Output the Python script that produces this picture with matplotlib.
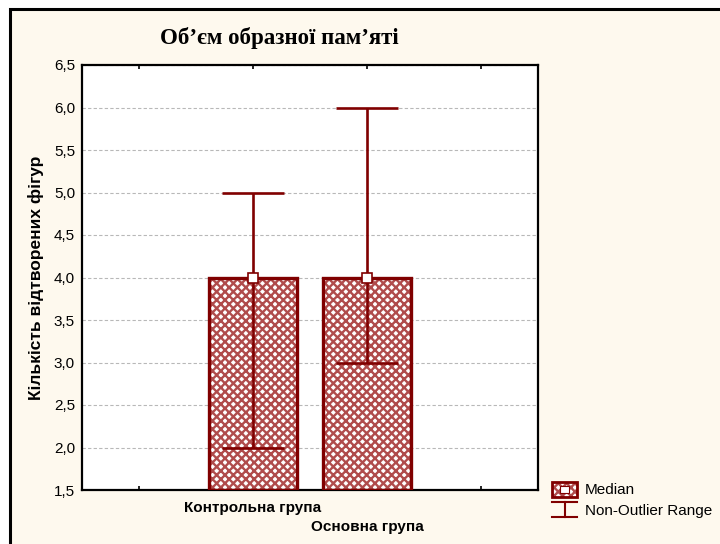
import matplotlib.pyplot as plt
import matplotlib.ticker as mticker
from matplotlib.patches import Rectangle
from matplotlib.lines import Line2D
import numpy as np

# data
groups = ["Контрольна група", "Основна група"]
positions = [1, 2]
medians = [4.0, 4.0]
range_low = [2.0, 3.0]
range_high = [5.0, 6.0]
yticks = np.arange(1.5, 6.51, 0.5)

dark_red = "#800000"
hatch_red = "#b04c4c"
bg = "#fef9ee"

plt.rcParams["hatch.linewidth"] = 1.7

fig = plt.figure(figsize=(7.2, 5.44), dpi=100)
fig.patch.set_facecolor("white")

# cream panel with black border on top/left (runs off the right/bottom)
fig.add_artist(Rectangle((10 / 720, -0.05), 1.1, 1 - 9 / 544 + 0.05,
                         transform=fig.transFigure, facecolor=bg,
                         edgecolor="black", linewidth=2.2, zorder=0))

ax = fig.add_axes([82 / 720, 1 - 490 / 544, 456 / 720, 425 / 544])
ax.set_facecolor("white")

ax.set_xlim(-0.5, 3.5)
ax.set_ylim(1.5, 6.5)
ax.set_yticks(yticks)
ax.yaxis.set_major_formatter(mticker.FuncFormatter(lambda v, p: f"{v:.1f}".replace(".", ",")))
ax.grid(axis="y", color="#b8b8b8", linestyle=(0, (3, 2)), linewidth=0.8)
ax.set_axisbelow(True)

ax.set_xticks([0, 1, 2, 3])
ax.set_xticklabels([])
ax.tick_params(axis="both", direction="in", length=3, width=1.2, color="black",
               top=True, right=True, labelsize=11)
ax.tick_params(axis="y", direction="out", length=0, pad=5)
for s in ax.spines.values():
    s.set_linewidth(1.6)

# bars: hatched fill, then solid outline
bar_w = 0.78
ax.bar(positions, np.array(medians) - 1.5, bottom=1.5, width=bar_w, color="white",
       hatch="xxxx", edgecolor=hatch_red, linewidth=0, zorder=2)
ax.bar(positions, np.array(medians) - 1.5, bottom=1.5, width=bar_w, fill=False,
       edgecolor=dark_red, linewidth=2.4, zorder=3)

# non-outlier range whiskers
cap = 0.55
ax.vlines(positions, range_low, range_high, color=dark_red, linewidth=1.9, zorder=4)
ax.hlines(range_low, np.array(positions) - cap / 2, np.array(positions) + cap / 2,
          color=dark_red, linewidth=1.9, zorder=4)
ax.hlines(range_high, np.array(positions) - cap / 2, np.array(positions) + cap / 2,
          color=dark_red, linewidth=1.9, zorder=4)
ax.plot(positions, medians, linestyle="none", marker="s", markersize=6.5,
        markerfacecolor="white", markeredgecolor=dark_red, markeredgewidth=1.2, zorder=5)

# staggered category labels
for i, (x, name) in enumerate(zip(positions, groups)):
    ax.text(x, -0.043 - 0.045 * i, name, transform=ax.get_xaxis_transform(),
            ha="center", va="center", fontsize=11, fontweight="bold",
            family="Liberation Sans")

ax.set_ylabel("Кількість відтворених фігур", fontsize=12.5, fontweight="bold",
              family="Liberation Sans", labelpad=7)
for lab in ax.get_yticklabels():
    lab.set_family("Liberation Sans")

fig.text(279 / 720, 1 - 38 / 544, "Об’єм образної пам’яті", ha="center", va="center",
         fontsize=16.5, fontweight="bold", family="Liberation Serif")

# legend drawn by hand at bottom right
def fx(px):
    return px / 720


def fy(py):
    return 1 - py / 544


fig.add_artist(Rectangle((fx(552), fy(497)), fx(577) - fx(552), fy(482) - fy(497),
                         transform=fig.transFigure, facecolor="white", hatch="xxxx",
                         edgecolor=hatch_red, linewidth=0))
fig.add_artist(Rectangle((fx(552), fy(497)), fx(577) - fx(552), fy(482) - fy(497),
                         transform=fig.transFigure, fill=False, edgecolor=dark_red,
                         linewidth=2))
fig.add_artist(Rectangle((fx(560), fy(493)), fx(569) - fx(560), fy(486) - fy(493),
                         transform=fig.transFigure, facecolor="white", edgecolor=dark_red,
                         linewidth=0.8))
fig.text(fx(585), fy(490), "Median", ha="left", va="center", fontsize=11,
         family="Liberation Sans")
for y in (502, 517):
    fig.add_artist(Line2D([fx(552), fx(577)], [fy(y), fy(y)], transform=fig.transFigure,
                          color=dark_red, linewidth=1.5))
fig.add_artist(Line2D([fx(564.5), fx(564.5)], [fy(502), fy(517)], transform=fig.transFigure,
                      color=dark_red, linewidth=1.5))
fig.text(fx(585), fy(511), "Non-Outlier Range", ha="left", va="center", fontsize=11,
         family="Liberation Sans")

fig.savefig("out.png", dpi=100, facecolor=fig.get_facecolor())
